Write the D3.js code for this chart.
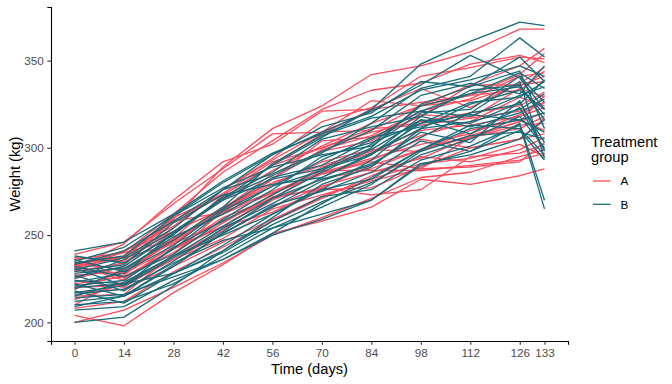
<!DOCTYPE html>
<html>
<head>
<meta charset="utf-8">
<script src="https://cdn.jsdelivr.net/npm/d3@7"></script>
<style>
  body { margin: 0; background: #fff; }
  svg { display: block; font-family: "Liberation Sans", Arial, sans-serif; }
</style>
</head>
<body>
<svg id="chart" width="672" height="384"></svg>
<script>
// Measurement days
const days = [0, 14, 28, 42, 56, 70, 84, 98, 112, 126, 133];
const xTicks = days;
const yTicks = [200, 250, 300, 350];
const groups = ['A', 'B'];

// Weights (kg) per animal, treatment group A
const groupA = [
  [233, 224, 245, 258, 271, 287, 287, 287, 290, 293, 297],
  [231, 238, 260, 273, 290, 300, 311, 313, 317, 321, 326],
  [232, 237, 245, 265, 285, 298, 304, 319, 317, 334, 329],
  [239, 246, 268, 288, 308, 309, 327, 324, 327, 336, 341],
  [215, 216, 239, 264, 282, 299, 307, 321, 328, 341, 343],
  [236, 226, 242, 255, 263, 277, 290, 299, 307, 315, 330],
  [219, 229, 246, 265, 279, 292, 299, 298, 310, 316, 310],
  [231, 245, 270, 292, 302, 321, 322, 334, 323, 337, 346],
  [230, 228, 243, 255, 272, 276, 277, 289, 300, 305, 308],
  [232, 240, 247, 263, 275, 286, 294, 302, 308, 319, 326],
  [234, 237, 259, 289, 311, 324, 342, 347, 355, 368, 368],
  [237, 235, 258, 263, 282, 304, 306, 318, 336, 336, 338],
  [229, 234, 254, 276, 294, 315, 323, 341, 346, 352, 351],
  [220, 227, 248, 273, 290, 308, 322, 326, 330, 342, 354],
  [232, 241, 255, 276, 293, 309, 310, 324, 336, 347, 357],
  [210, 225, 242, 260, 271, 277, 273, 276, 295, 297, 302],
  [229, 241, 252, 265, 274, 285, 292, 288, 306, 313, 314],
  [204, 198, 217, 233, 251, 258, 266, 282, 279, 284, 288],
  [220, 221, 236, 248, 265, 273, 281, 288, 289, 292, 303],
  [233, 238, 258, 274, 292, 300, 309, 315, 320, 324, 332],
  [234, 230, 248, 262, 274, 285, 293, 305, 300, 305, 317],
  [200, 207, 220, 234, 250, 260, 271, 283, 286, 295, 299],
  [222, 226, 240, 257, 273, 289, 297, 307, 315, 329, 324],
  [225, 232, 252, 270, 287, 301, 314, 324, 330, 333, 344],
  [236, 240, 262, 286, 304, 322, 333, 337, 348, 353, 349],
  [217, 219, 232, 246, 259, 272, 282, 291, 294, 302, 295],
  [208, 212, 229, 243, 258, 271, 284, 295, 292, 299, 306],
  [227, 229, 247, 266, 280, 290, 298, 310, 313, 318, 323],
  [224, 220, 238, 253, 270, 282, 288, 299, 306, 311, 318],
  [213, 222, 236, 251, 266, 278, 286, 294, 306, 315, 320]
];

// Weights (kg) per animal, treatment group B
const groupB = [
  [241, 246, 262, 281, 297, 308, 318, 333, 339, 347, 341],
  [238, 234, 250, 272, 286, 305, 312, 318, 333, 336, 316],
  [236, 229, 244, 265, 283, 290, 305, 321, 318, 330, 335],
  [234, 238, 261, 277, 289, 296, 301, 320, 322, 341, 326],
  [232, 226, 239, 259, 276, 295, 303, 314, 326, 329, 338],
  [231, 221, 237, 252, 271, 286, 299, 316, 314, 326, 303],
  [229, 233, 257, 273, 279, 283, 296, 314, 319, 316, 309],
  [228, 231, 247, 266, 291, 307, 317, 321, 331, 343, 334],
  [227, 218, 235, 254, 268, 283, 297, 311, 325, 333, 322],
  [226, 232, 251, 271, 290, 306, 322, 348, 361, 372, 370],
  [225, 236, 252, 271, 284, 297, 314, 334, 341, 363, 352],
  [224, 222, 228, 241, 260, 279, 289, 311, 315, 322, 331],
  [223, 228, 251, 270, 282, 288, 302, 324, 331, 335, 319],
  [222, 215, 233, 251, 266, 281, 291, 306, 320, 325, 339],
  [221, 224, 242, 264, 278, 287, 300, 325, 335, 344, 311],
  [220, 222, 238, 250, 262, 276, 293, 316, 308, 323, 299],
  [219, 230, 249, 262, 278, 293, 306, 312, 320, 338, 294],
  [218, 211, 228, 244, 262, 276, 282, 299, 313, 311, 296],
  [217, 221, 243, 258, 273, 288, 296, 318, 312, 320, 328],
  [216, 219, 234, 247, 254, 266, 279, 298, 307, 309, 305],
  [215, 223, 238, 255, 271, 282, 290, 309, 303, 327, 298],
  [214, 216, 226, 236, 251, 268, 283, 299, 311, 316, 320],
  [212, 215, 232, 251, 267, 275, 286, 304, 298, 310, 293],
  [210, 212, 222, 238, 254, 262, 270, 291, 296, 305, 316],
  [209, 215, 228, 240, 256, 269, 280, 296, 305, 318, 300],
  [207, 209, 224, 236, 250, 259, 270, 290, 298, 314, 270],
  [200, 203, 221, 241, 258, 272, 276, 293, 301, 313, 265],
  [235, 243, 261, 280, 296, 309, 321, 336, 353, 340, 322],
  [230, 237, 254, 276, 296, 312, 320, 338, 335, 352, 338],
  [233, 241, 258, 276, 285, 298, 310, 330, 337, 331, 347]
];

const colors = { A: '#ff4b5c', B: '#186b79' };

const svg = d3.select('#chart');
const margin = { left: 51, right: 104, top: 7, bottom: 43 };
const width = 672, height = 384;

// ggplot-style 5% padding on continuous scales
const allW = groupA.concat(groupB).flat();
const yMin = d3.min(allW), yMax = d3.max(allW);
const yPad = (yMax - yMin) * 0.05;
const xPad = (d3.max(days) - d3.min(days)) * 0.05;

const x = d3.scaleLinear()
  .domain([d3.min(days) - xPad, d3.max(days) + xPad])
  .range([margin.left, width - margin.right]);

const y = d3.scaleLinear()
  .domain([yMin - yPad, yMax + yPad])
  .range([height - margin.bottom, margin.top]);

const line = d3.line()
  .x((d, i) => x(days[i]))
  .y(d => y(d));

// Lines: group A first, then B on top
const series = groupA.map(v => ({ g: 'A', v })).concat(groupB.map(v => ({ g: 'B', v })));

svg.append('g')
  .selectAll('path')
  .data(series)
  .enter().append('path')
  .attr('d', d => line(d.v))
  .attr('fill', 'none')
  .attr('stroke', d => colors[d.g])
  .attr('stroke-width', 1.3)
  .attr('stroke-linejoin', 'round');

// Axes
const xAxis = svg.append('g')
  .attr('transform', `translate(0,${height - margin.bottom})`)
  .call(d3.axisBottom(x).tickValues(xTicks).tickSize(3.7).tickPadding(3.5));

const yAxis = svg.append('g')
  .attr('transform', `translate(${margin.left},0)`)
  .call(d3.axisLeft(y).tickValues(yTicks).tickSize(3.7).tickPadding(3.5));

[xAxis, yAxis].forEach(a => {
  a.select('.domain').attr('stroke', '#000').attr('stroke-width', 1.1);
  a.selectAll('.tick line').attr('stroke', '#333').attr('stroke-width', 1.1);
  a.selectAll('.tick text')
    .attr('fill', '#4d4d4d')
    .style('font-size', '11.7px')
    .style('font-family', '"Liberation Sans", Arial, sans-serif');
});

// Axis titles
svg.append('text')
  .attr('x', (margin.left + width - margin.right) / 2)
  .attr('y', 374)
  .attr('text-anchor', 'middle')
  .style('font-size', '14.7px')
  .text('Time (days)');

svg.append('text')
  .attr('transform', `translate(19.5,${(margin.top + height - margin.bottom) / 2}) rotate(-90)`)
  .attr('text-anchor', 'middle')
  .style('font-size', '14.7px')
  .text('Weight (kg)');

// Legend
const legend = svg.append('g').attr('transform', 'translate(591,0)');

legend.append('text')
  .attr('x', 0).attr('y', 146.5)
  .style('font-size', '14.7px')
  .text('Treatment');
legend.append('text')
  .attr('x', 0).attr('y', 162)
  .style('font-size', '14.7px')
  .text('group');

const keys = legend.selectAll('.key')
  .data(groups)
  .enter().append('g')
  .attr('class', 'key')
  .attr('transform', (d, i) => `translate(0,${181 + i * 23.3})`);

keys.append('line')
  .attr('x1', 2).attr('x2', 19.5)
  .attr('stroke', d => colors[d])
  .attr('stroke-width', 1.3);

keys.append('text')
  .attr('x', 29.5).attr('y', 4.2)
  .style('font-size', '11.7px')
  .attr('fill', '#000')
  .text(d => d);
</script>
</body>
</html>
